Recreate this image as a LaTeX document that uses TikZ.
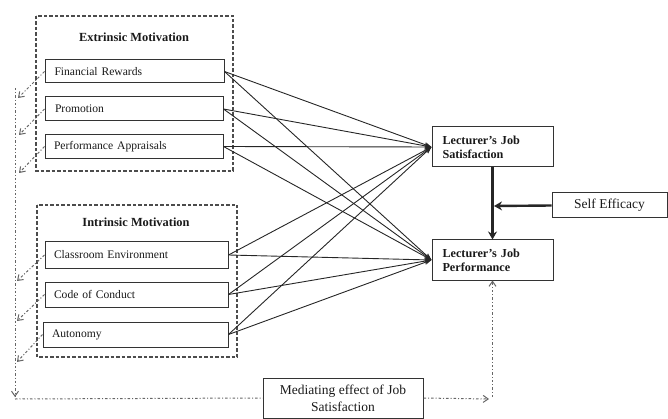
\documentclass[tikz,border=0pt]{standalone}
\usepackage{fontspec}
\setmainfont{Liberation Serif}
\usetikzlibrary{arrows.meta}
\begin{document}
\begin{tikzpicture}[x=1pt,y=-1pt,
  box/.style={draw=black!80,line width=1pt,inner sep=0pt,font=\fontsize{11.6}{12}\selectfont,text=black!90},
  lbox/.style={box,align=left},
  bigtext/.style={font=\fontsize{13.5}{17}\selectfont},
  grp/.style={draw=black!70,line width=1.2pt,dash pattern=on 3.5pt off 2pt},
  head/.style={font=\bfseries\fontsize{12.4}{13}\selectfont,text=black!90},
  rtext/.style={font=\bfseries\fontsize{12.2}{14}\selectfont},
  link/.style={draw=black!85,line width=0.9pt,-{Stealth[length=7pt,width=5pt]}},
  thick arrow/.style={draw=black!85,line width=2.4pt,-{Stealth[length=8pt,width=9pt]}},
  dd/.style={draw=black!60,line width=1pt,dash pattern=on 2.5pt off 2pt on 1pt off 2pt},
  ddarrow/.style={dd,-{Straight Barb[length=5pt,width=7pt]}},
]
\useasboundingbox (0,0) rectangle (668,419);
% group boxes
\draw[grp] (36,16) rectangle (233,171);
\draw[grp] (37,205) rectangle (237,357);
\node[head] (exh) at (134,37) {Extrinsic Motivation};
\node[head] (inh) at (136,222) {Intrinsic Motivation};
% left boxes
\node[lbox,minimum width=179pt,minimum height=23pt,text width=160pt] (fr) at (134.5,71.5) {Financial Rewards};
\node[lbox,minimum width=178pt,minimum height=24pt,text width=158pt] (pr) at (134,109) {Promotion};
\node[lbox,minimum width=178pt,minimum height=24pt,text width=160pt] (pa) at (134,146.5) {Performance Appraisals};
\node[lbox,minimum width=183pt,minimum height=26pt,text width=165pt] (ce) at (136.5,255) {Classroom Environment};
\node[lbox,minimum width=183pt,minimum height=25pt,text width=165pt] (cc) at (136.5,294.5) {Code of Conduct};
\node[lbox,minimum width=185pt,minimum height=25pt,text width=167pt] (au) at (135.5,334.5) {Autonomy};
% right boxes
\node[lbox,rtext,minimum width=121pt,minimum height=40pt,text width=100pt] (sat) at (492.5,147) {Lecturer's Job\\Satisfaction};
\node[lbox,rtext,minimum width=121pt,minimum height=40pt,text width=100pt] (perf) at (492.5,260) {Lecturer's Job\\Performance};
\node[box,bigtext,minimum width=115pt,minimum height=25pt] (se) at (609.5,205.5) {Self Efficacy};
\node[box,bigtext,align=center,minimum width=160pt,minimum height=40pt] (med) at (343,398) {Mediating effect of Job\\Satisfaction};
% connectors
\foreach \s in {fr,pr,pa,ce,cc,au}{
  \draw[link] (\s.east) -- (sat.west);
  \draw[link] (\s.east) -- (perf.west);
}
\draw[thick arrow] (sat.south) -- (perf.north);
\coordinate (mod) at (494,206);
\draw[thick arrow] (se.west) -- (mod);
% mediating dashed paths
\coordinate (lt) at (15,88);
\coordinate (lb) at (15,397);
\coordinate (lc) at (15,399);
\coordinate (rc) at (489,399);
\coordinate (rv) at (492.5,397);
\coordinate (a1) at (18,98);
\coordinate (a2) at (19,135);
\coordinate (a3) at (19,173);
\coordinate (a4) at (17,281);
\coordinate (a5) at (17,321);
\coordinate (a6) at (17,362);
\draw[ddarrow] (fr.west) -- (a1);
\draw[ddarrow] (pr.west) -- (a2);
\draw[ddarrow] (pa.west) -- (a3);
\draw[ddarrow] (ce.west) -- (a4);
\draw[ddarrow] (cc.west) -- (a5);
\draw[ddarrow] (au.west) -- (a6);
\draw[ddarrow] (lt) -- (lb);
\draw[dd] (lc) -- (med.west);
\draw[ddarrow] (med.east) -- (rc);
\draw[ddarrow] (rv) -- (perf.south);
\end{tikzpicture}
\end{document}
